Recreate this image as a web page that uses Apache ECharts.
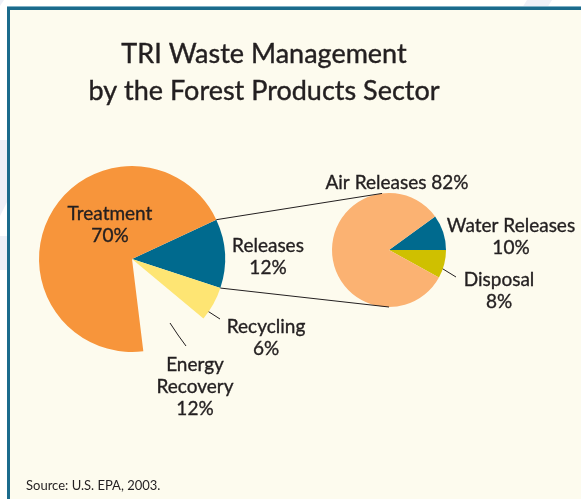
<!DOCTYPE html>
<html>
<head>
<meta charset="utf-8">
<script src="https://cdn.jsdelivr.net/npm/echarts@6/dist/echarts.min.js"></script>
<style>
  html, body { margin: 0; padding: 0; background: #ffffff; }
  #chart { width: 581px; height: 499px; }
</style>
</head>
<body>
<div id="chart"></div>
<script>
// main pie: how the waste is managed (%)
var mainNames = ['Releases', 'Recycling', 'Energy Recovery', 'Treatment'];
var mainValues = [12, 6, 12, 70];
// detail pie: breakdown of the releases (%)
var releaseNames = ['Water Releases', 'Disposal', 'Air Releases'];
var releaseValues = [10, 8, 82];

var textColor = '#231f20';
var fontName = 'Lato';

// pie geometry
var mainCenter = [132, 259], mainRadius = 93, mainStart = 25;
var relCenter = [389, 250], relRadius = 57, relStart = 36;

var mainColors = ['#006a8e', '#fee573', 'rgba(0,0,0,0)', '#f7953b'];
var relColors = ['#006a8e', '#cfc000', '#fbb272'];

// label placement (centre of text block) and callout lines
var mainLabels = [
    { x: 268, y: 257, sep: '\n' },
    { x: 266, y: 338, sep: '\n', line: [[192, 300], [206, 310], [220, 319]] },
    { x: 195, y: 387, sep: '\n', wrap: true, line: [[170, 323], [178, 335], [186, 346]] },
    { x: 110, y: 225, sep: '\n' }
];
var relLabels = [
    { x: 511, y: 237, sep: '\n' },
    { x: 499, y: 291, sep: '\n', line: [[430, 261], [443, 269], [456, 277]] },
    { x: 397, y: 183, sep: ' ' }
];

function buildData(names, values, colors, labels) {
    return names.map(function (n, i) {
        return {
            name: n,
            value: values[i],
            itemStyle: { color: colors[i] },
            labelLine: { show: !!labels[i].line, lineStyle: { color: textColor, width: 1 } }
        };
    });
}

function labelText(labels) {
    return function (p) {
        var l = labels[p.dataIndex];
        var name = l.wrap ? p.name.replace(' ', '\n') : p.name;
        return name + l.sep + p.value + '%';
    };
}

function labelPlace(labels) {
    return function (p) {
        var l = labels[p.dataIndex];
        var r = { x: l.x, y: l.y, align: 'center', verticalAlign: 'middle' };
        if (l.line) r.labelLinePoints = l.line;
        return r;
    };
}

function pieSeries(center, radius, start, names, values, colors, labels) {
    return {
        type: 'pie',
        center: center,
        radius: radius,
        startAngle: start,
        clockwise: true,
        silent: true,
        animation: false,
        avoidLabelOverlap: false,
        itemStyle: { borderWidth: 0 },
        emphasis: { disabled: true },
        label: {
            show: true,
            position: 'outside',
            formatter: labelText(labels),
            color: textColor,
            fontFamily: fontName,
            fontSize: 19,
            lineHeight: 22,
            align: 'center',
            textBorderColor: textColor,
            textBorderWidth: 0.35
        },
        labelLine: { show: true, lineStyle: { color: textColor, width: 1 } },
        labelLayout: labelPlace(labels),
        data: buildData(names, values, colors, labels)
    };
}

// point on a pie rim at a given angle (degrees, counter-clockwise from 3 o'clock)
function rim(center, radius, deg) {
    var a = deg * Math.PI / 180;
    return [center[0] + radius * Math.cos(a), center[1] - radius * Math.sin(a)];
}

var releasesSweep = mainValues[0] / mainValues.reduce(function (a, b) { return a + b; }, 0) * 360;
var c1a = rim(mainCenter, mainRadius, mainStart);
var c1b = rim(relCenter, relRadius, 97);
var c2a = rim(mainCenter, mainRadius, mainStart - releasesSweep);
var c2b = rim(relCenter, relRadius, -90);

var chart = echarts.init(document.getElementById('chart'), null, { renderer: 'canvas' });

chart.setOption({
    backgroundColor: '#ffffff',
    animation: false,
    title: [
        {
            text: 'TRI Waste Management\nby the Forest Products Sector',
            left: 259,
            top: 31,
            textAlign: 'center',
            textStyle: {
                color: textColor,
                fontFamily: fontName,
                fontSize: 27,
                fontWeight: 'normal',
                lineHeight: 37,
                textBorderColor: textColor,
                textBorderWidth: 0.4
            }
        },
        {
            text: 'Source: U.S. EPA, 2003.',
            left: 21,
            top: 474,
            textStyle: {
                color: textColor,
                fontFamily: fontName,
                fontSize: 13,
                fontWeight: 'normal'
            }
        }
    ],
    graphic: [
        // faint background shapes outside the panel
        { type: 'polygon', z: -20, silent: true, shape: { points: [[0, 140], [9, 140], [9, 198], [0, 216]] }, style: { fill: '#eef0f8' } },
        { type: 'polygon', z: -20, silent: true, shape: { points: [[0, 236], [9, 236], [9, 270], [0, 270]] }, style: { fill: '#eef0f8' } },
        { type: 'polygon', z: -20, silent: true, shape: { points: [[527, 0], [552, 0], [547, 8], [522, 8]] }, style: { fill: '#eef0f8' } },
        { type: 'polygon', z: -20, silent: true, shape: { points: [[0, 0], [4, 0], [0, 6]] }, style: { fill: '#eef0f8' } },
        // panel
        {
            type: 'rect', z: -10, silent: true,
            shape: { x: 8.5, y: 8.5, width: 700, height: 700 },
            style: { fill: '#fdfbee', stroke: '#1b6b8c', lineWidth: 3 }
        },
        { type: 'line', z: -9, silent: true, shape: { x1: 7, y1: 6.5, x2: 581, y2: 6.5 }, style: { stroke: '#7fb0c6', lineWidth: 1 } },
        // connectors from the Releases slice to the detail pie
        { type: 'line', z: 5, silent: true, shape: { x1: c1a[0], y1: c1a[1], x2: c1b[0], y2: c1b[1] }, style: { stroke: textColor, lineWidth: 1 } },
        { type: 'line', z: 5, silent: true, shape: { x1: c2a[0], y1: c2a[1], x2: c2b[0], y2: c2b[1] }, style: { stroke: textColor, lineWidth: 1 } }
    ],
    series: [
        pieSeries(mainCenter, mainRadius, mainStart, mainNames, mainValues, mainColors, mainLabels),
        pieSeries(relCenter, relRadius, relStart, releaseNames, releaseValues, relColors, relLabels)
    ]
});
</script>
</body>
</html>
